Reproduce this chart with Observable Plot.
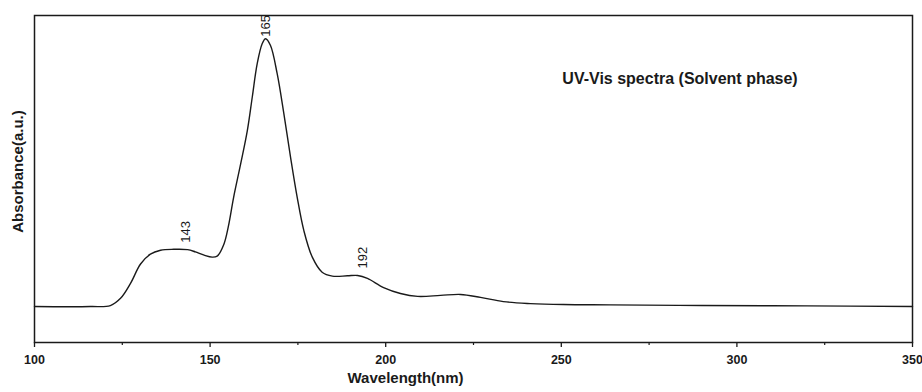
<!DOCTYPE html>
<html>
<head>
<meta charset="utf-8">
<script src="https://cdn.jsdelivr.net/npm/d3@7"></script>
<script src="https://cdn.jsdelivr.net/npm/@observablehq/plot@0.6"></script>
<style>
  html, body { margin: 0; padding: 0; background: #fff; }
  #chart { width: 922px; height: 392px; }
  svg { font-family: "Liberation Sans", Arial, sans-serif; }
</style>
</head>
<body>
<div id="chart"></div>
<script>
const wavelength = [100, 115.9, 121.6, 124.5, 127.3, 130.2, 133.0, 135.9, 139.6, 143.6, 145.8, 148.3, 150.6, 152.0, 153.9, 155.2, 156.7, 158.7, 160.6, 162.0, 163.4, 164.8, 165.8, 167.2, 169.1, 171.0, 172.9, 174.8, 176.7, 179.1, 181.9, 184.8, 189.1, 192.0, 194.8, 199.4, 204.2, 209.1, 215.6, 221.3, 227.0, 233.5, 241.2, 250.6, 264, 290, 320, 350];
const absorbance = [0.110, 0.110, 0.113, 0.135, 0.180, 0.240, 0.270, 0.282, 0.285, 0.284, 0.277, 0.267, 0.261, 0.264, 0.300, 0.355, 0.444, 0.546, 0.648, 0.750, 0.852, 0.913, 0.929, 0.908, 0.822, 0.700, 0.567, 0.444, 0.342, 0.261, 0.215, 0.203, 0.204, 0.205, 0.196, 0.168, 0.150, 0.141, 0.144, 0.147, 0.138, 0.125, 0.119, 0.116, 0.115, 0.113, 0.112, 0.110];

const peakWavelength = [143, 165.8, 193.4];
const peakText = ["143", "165", "192"];
const peakAbs = [0.284, 0.929, 0.205];
const peakGap = [7, 2, 7];

const majorTicks = [100, 150, 200, 250, 300, 350];
const minorTicks = [125, 175, 225, 275, 325];

const titleText = "UV-Vis spectra (Solvent phase)";
const xTitle = "Wavelength(nm)";
const yTitle = "Absorbance(a.u.)";

const spectrum = wavelength.map((w, i) => ({w, a: absorbance[i]}));
const peaks = peakWavelength.map((w, i) => ({w, a: peakAbs[i], t: peakText[i], g: peakGap[i]}));

const ink = "#1a1a1a";

const chart = Plot.plot({
  width: 922,
  height: 392,
  marginLeft: 34,
  marginRight: 10,
  marginTop: 15,
  marginBottom: 50,
  x: {domain: [100, 350]},
  y: {domain: [0, 1], axis: null},
  marks: [
    Plot.frame({stroke: ink, strokeWidth: 1.5}),
    Plot.axisX({ticks: minorTicks, tickSize: 3, tickFormat: () => "", label: null, stroke: ink, strokeWidth: 1.2}),
    Plot.axisX({ticks: majorTicks, tickSize: 5, tickPadding: 8, label: null, fontSize: 12.5, fontWeight: "bold", fill: ink, stroke: ink, strokeWidth: 1.3}),
    Plot.line(spectrum, {x: "w", y: "a", curve: "catmull-rom", stroke: ink, strokeWidth: 1.4}),
    ...peaks.map(p => Plot.text([p], {x: "w", y: "a", text: "t", rotate: -90, textAnchor: "start", dy: -p.g, fontSize: 13, fill: ink})),
    Plot.text([titleText], {x: () => 250.3, y: () => 0.807, text: d => d, textAnchor: "start", fontSize: 16, fontWeight: "bold", fill: ink}),
    Plot.text([xTitle], {frameAnchor: "bottom-left", text: d => d, textAnchor: "start", dx: 313, dy: 40, fontSize: 15, fontWeight: "bold", fill: ink}),
    Plot.text([yTitle], {frameAnchor: "left", text: d => d, rotate: -90, textAnchor: "middle", dx: -16, dy: -7.5, fontSize: 15, fontWeight: "bold", fill: ink})
  ]
});
document.getElementById("chart").appendChild(chart);
</script>
</body>
</html>
